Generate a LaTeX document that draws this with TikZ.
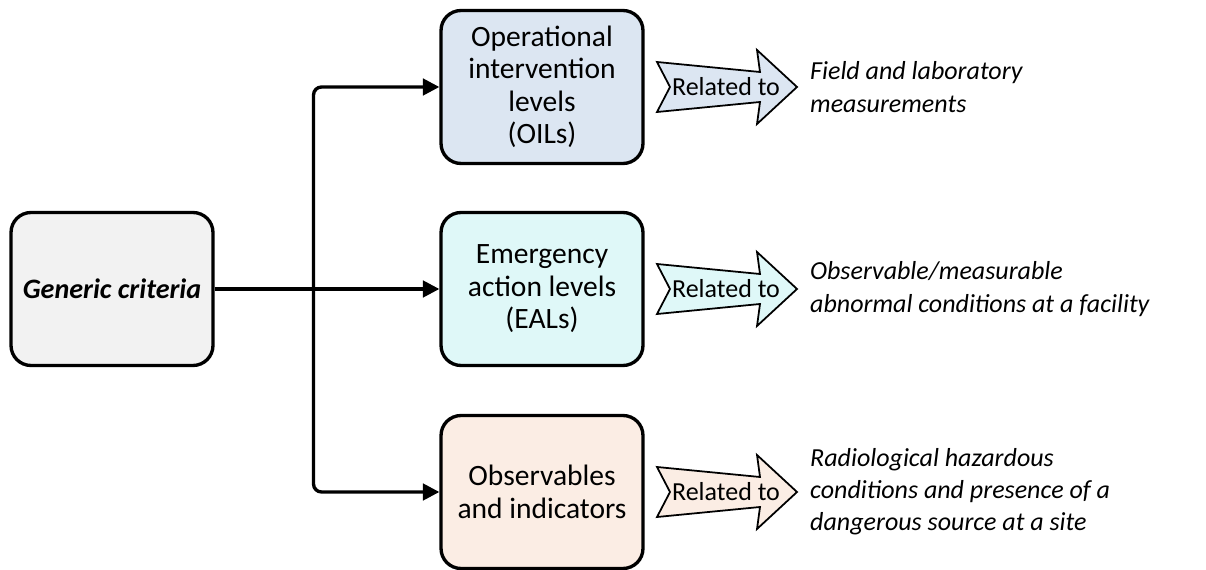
\documentclass[tikz,border=0pt]{standalone}
\usepackage{fontspec}
\setmainfont{Carlito}
\usepackage{tikz}
\usetikzlibrary{arrows.meta,positioning,calc}
\definecolor{critgray}{HTML}{F2F2F2}
\definecolor{oilblue}{HTML}{DCE6F2}
\definecolor{ealcyan}{HTML}{DFF8F8}
\definecolor{obspeach}{HTML}{FBEDE4}
% notched "Related to" arrow round a centre coordinate
\newcommand{\relarrow}[2]{%
  \draw[relshape, fill=#2] ([shift={(-69,-25)}]#1) -- ([shift={(34,-15)}]#1)
    -- ([shift={(31,-37)}]#1) -- ([shift={(71,0)}]#1) -- ([shift={(31,37)}]#1)
    -- ([shift={(34,15)}]#1) -- ([shift={(-69,25)}]#1) -- ([shift={(-56,0)}]#1) -- cycle;}

\begin{document}
\begin{tikzpicture}[
  x=0.02cm, y=-0.02cm,
  every node/.style={font=\fontsize{14.8}{18.3}\selectfont},
  box/.style={draw, line width=1.9pt, rounded corners=0.4cm, minimum width=4.04cm, minimum height=3.06cm, align=center, font=\fontsize{16.8}{18.5}\selectfont},
  link/.style={-{Triangle[length=0.33cm,width=0.33cm]}, line width=1.9pt},
  relshape/.style={draw, line width=1pt, line join=miter},
  target/.style={anchor=west, align=left, font=\fontsize{14.8}{18.3}\selectfont\itshape}
]
\useasboundingbox (0,0) rectangle (1206,570);
\node[box, fill=critgray, font=\fontsize{16}{18.5}\selectfont\bfseries\itshape] (gc) at (112,289) {Generic criteria};
\node[box, fill=oilblue] (oil) at (542,87) {Operational\\intervention\\levels\\(OILs)};
\node[box, fill=ealcyan] (eal) at (542,289) {Emergency\\action levels\\(EALs)};
\node[box, fill=obspeach] (obs) at (542,492) {Observables\\and indicators};

% branching connectors
\coordinate (split) at ($(gc.east)!0.44!(eal.west)$);
\draw[link] (gc.east) -- (eal.west);
\draw[link, rounded corners=0.16cm] (split) |- (oil.west);
\draw[link, rounded corners=0.16cm] (split) |- (obs.west);

% related-to arrows
\coordinate (c1) at (726,87);
\coordinate (c2) at (726,289);
\coordinate (c3) at (726,492);
\relarrow{c1}{oilblue}
\relarrow{c2}{ealcyan}
\relarrow{c3}{obspeach}
\node (rel1) at (c1) {Related to};
\node (rel2) at (c2) {Related to};
\node (rel3) at (c3) {Related to};

\node[target] (meas) at (804,87) {Field and laboratory\\measurements};
\node[target] (cond) at (804,289) {Observable/measurable\\abnormal conditions at a facility};
\node[target] (haz) at (804,492) {Radiological hazardous\\conditions and presence of a\\dangerous source at a site};
\end{tikzpicture}
\end{document}
